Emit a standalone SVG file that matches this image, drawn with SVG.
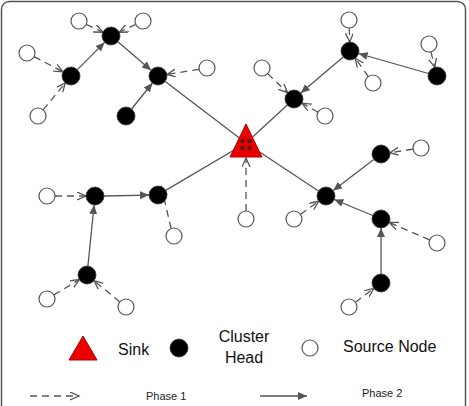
<svg xmlns="http://www.w3.org/2000/svg" width="469" height="406" viewBox="0 0 469 406">
<style>
.src{fill:#fff;stroke:#555;stroke-width:1.2}
.ch{fill:#000;stroke:#333;stroke-width:0.8}
.p1{stroke:#555;stroke-width:1.3;fill:none;stroke-dasharray:7 5;marker-end:url(#open)}
.p2{stroke:#555;stroke-width:1.3;fill:none;marker-end:url(#filled)}
.p2n{stroke:#555;stroke-width:1.3;fill:none}
.sink{fill:#e80000;stroke:#b00;stroke-width:1}
.lbl{font-family:"Liberation Sans",Arial,sans-serif;font-size:16px;fill:#111}
.ph{font-family:"Liberation Sans",Arial,sans-serif;font-size:11px;fill:#222}
</style>
<defs>
<marker id="open" markerUnits="userSpaceOnUse" markerWidth="12" markerHeight="10" refX="9" refY="4" orient="auto">
<path d="M0,0 L9,4 L0,8" fill="none" stroke="#555" stroke-width="1.3"/>
</marker>
<marker id="filled" markerUnits="userSpaceOnUse" markerWidth="12" markerHeight="10" refX="9" refY="4" orient="auto">
<path d="M0,0 L9,4 L0,8 z" fill="#555"/>
</marker>
</defs>
<rect x="1.5" y="1.5" width="464" height="430" rx="8" fill="#fff" stroke="#555" stroke-width="1.5"/>
<g id="connectors">
<path class="p1" d="M86.2,24.4 L102.9,32.2"/>
<path class="p1" d="M135.8,24.4 L119.1,32.2"/>
<path class="p1" d="M34.1,56.7 L63.0,71.8"/>
<path class="p1" d="M43.1,109.8 L65.3,82.9"/>
<path class="p2" d="M77.4,69.6 L104.6,42.4"/>
<path class="p2" d="M117.9,41.8 L151.1,70.2"/>
<path class="p1" d="M199.1,69.3 L166.9,74.5"/>
<path class="p2" d="M131.6,109.0 L152.4,83.0"/>
<path class="p2n" d="M165.2,81.5 L246,143"/>
<path class="p1" d="M349.3,28.0 L349.7,42.0"/>
<path class="p1" d="M368.3,76.5 L355.3,58.3"/>
<path class="p1" d="M430.9,51.8 L434.8,67.3"/>
<path class="p2" d="M428.4,73.5 L358.6,53.5"/>
<path class="p2" d="M343.2,56.9 L300.8,93.1"/>
<path class="p1" d="M267.7,73.6 L287.5,92.7"/>
<path class="p1" d="M318.0,112.2 L302.1,103.3"/>
<path class="p2n" d="M287.4,105.1 L246,143"/>
<path class="p1" d="M55,196 L86,196"/>
<path class="p2" d="M104,196 L149,195.1"/>
<path class="p1" d="M171.1,228.5 L161.3,186.6"/>
<path class="p2" d="M87.9,266.0 L94.1,205.0"/>
<path class="p1" d="M53.9,294.9 L79.3,279.6"/>
<path class="p1" d="M119.8,301.9 L94.0,280.7"/>
<path class="p2n" d="M165.7,190.4 L246,143"/>
<path class="p1" d="M246,211 L246,158"/>
<path class="p1" d="M300.5,214.3 L318.7,201.3"/>
<path class="p1" d="M413.1,149.2 L389.9,152.7"/>
<path class="p2" d="M373.8,159.5 L333.2,190.5"/>
<path class="p2" d="M372.7,215.5 L334.3,199.5"/>
<path class="p1" d="M429.6,239.8 L389.3,222.5"/>
<path class="p2" d="M381,274 L381,228"/>
<path class="p1" d="M355.4,302.2 L373.8,288.4"/>
<path class="p2n" d="M318.5,191.0 L246,143"/>
</g>
<g id="sink">
<polygon class="sink" points="246,124 230,157 262,157"/>
<g fill="#5a1a1a">
<circle cx="242.5" cy="141" r="2.3"/><circle cx="249.5" cy="141" r="2.3"/>
<circle cx="242.5" cy="148" r="2.3"/><circle cx="249.5" cy="148" r="2.3"/>
</g>
</g>
<g id="ch1"><circle class="ch" cx="111" cy="36" r="9"/></g>
<g id="ch2"><circle class="ch" cx="71" cy="76" r="9"/></g>
<g id="ch3"><circle class="ch" cx="158" cy="76" r="9"/></g>
<g id="ch4"><circle class="ch" cx="126" cy="116" r="9"/></g>
<g id="ch5"><circle class="ch" cx="350" cy="51" r="9"/></g>
<g id="ch6"><circle class="ch" cx="437" cy="76" r="9"/></g>
<g id="ch7"><circle class="ch" cx="294" cy="99" r="9"/></g>
<g id="ch8"><circle class="ch" cx="95" cy="196" r="9"/></g>
<g id="ch9"><circle class="ch" cx="158" cy="195" r="9"/></g>
<g id="ch10"><circle class="ch" cx="87" cy="275" r="9"/></g>
<g id="ch11"><circle class="ch" cx="326" cy="196" r="9"/></g>
<g id="ch12"><circle class="ch" cx="381" cy="154" r="9"/></g>
<g id="ch13"><circle class="ch" cx="381" cy="219" r="9"/></g>
<g id="ch14"><circle class="ch" cx="381" cy="283" r="9"/></g>
<g id="s1"><circle class="src" cx="79" cy="21" r="8"/></g>
<g id="s2"><circle class="src" cx="143" cy="21" r="8"/></g>
<g id="s3"><circle class="src" cx="27" cy="53" r="8"/></g>
<g id="s4"><circle class="src" cx="38" cy="116" r="8"/></g>
<g id="s5"><circle class="src" cx="207" cy="68" r="8"/></g>
<g id="s6"><circle class="src" cx="349" cy="20" r="8"/></g>
<g id="s7"><circle class="src" cx="373" cy="83" r="8"/></g>
<g id="s8"><circle class="src" cx="429" cy="44" r="8"/></g>
<g id="s9"><circle class="src" cx="262" cy="68" r="8"/></g>
<g id="s10"><circle class="src" cx="325" cy="116" r="8"/></g>
<g id="s11"><circle class="src" cx="47" cy="196" r="8"/></g>
<g id="s12"><circle class="src" cx="174" cy="236" r="8"/></g>
<g id="s13"><circle class="src" cx="47" cy="299" r="8"/></g>
<g id="s14"><circle class="src" cx="126" cy="307" r="8"/></g>
<g id="s15"><circle class="src" cx="246" cy="219" r="8"/></g>
<g id="s16"><circle class="src" cx="294" cy="219" r="8"/></g>
<g id="s17"><circle class="src" cx="421" cy="148" r="8"/></g>
<g id="s18"><circle class="src" cx="437" cy="243" r="8"/></g>
<g id="s19"><circle class="src" cx="349" cy="307" r="8"/></g>
<g id="legend">
<polygon class="sink" points="83,336 69,360 97,360"/>
<text class="lbl" x="118" y="355">Sink</text>
<circle class="ch" cx="179" cy="348" r="9"/>
<text class="lbl" x="244" y="342" text-anchor="middle">Cluster</text>
<text class="lbl" x="244" y="363" text-anchor="middle">Head</text>
<circle class="src" cx="310" cy="348" r="8"/>
<text class="lbl" x="343" y="352">Source Node</text>
<path class="p1" d="M30,396 L79,396"/>
<text class="ph" x="146" y="400">Phase 1</text>
<path class="p2" d="M260,396 L307,396"/>
<text class="ph" x="362" y="397">Phase 2</text>
</g>
</svg>
